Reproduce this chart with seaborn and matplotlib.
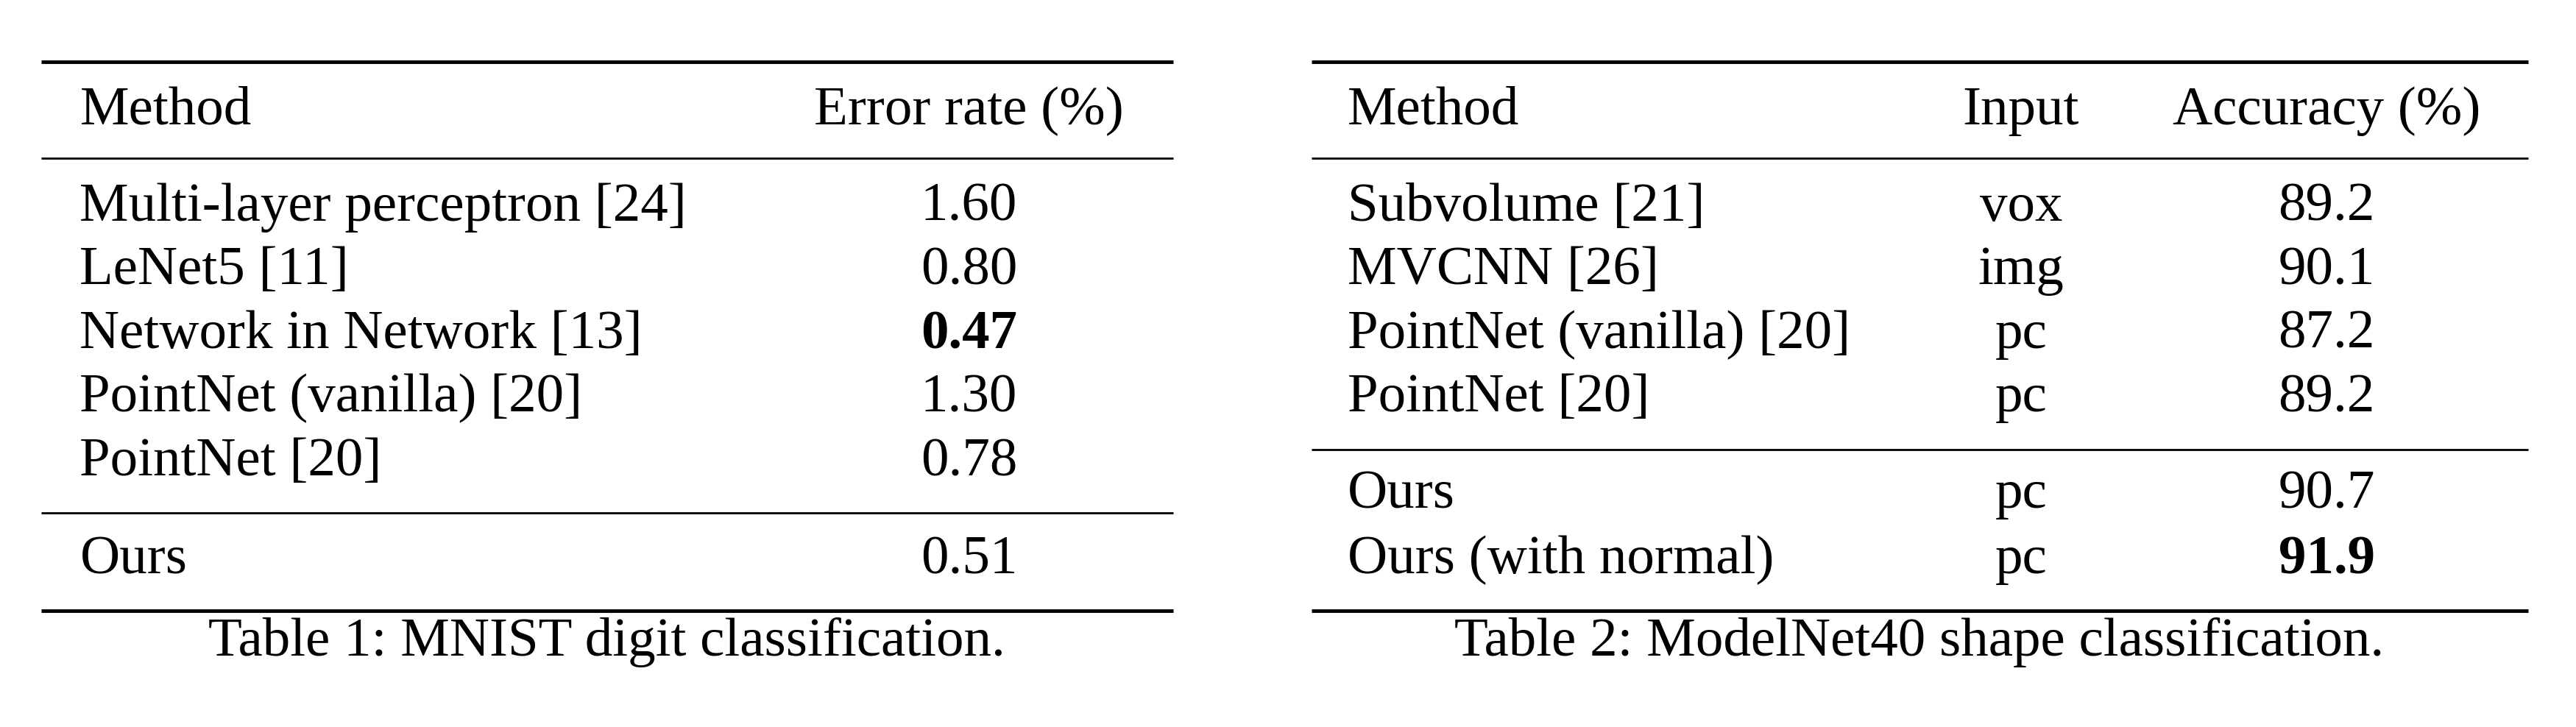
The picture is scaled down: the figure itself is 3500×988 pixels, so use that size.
import matplotlib
matplotlib.use("Agg")
import matplotlib.pyplot as plt
import seaborn as sns

sns.set_theme(style="white", rc={"font.family": "Liberation Serif"})

t1_methods = ["Multi-layer perceptron [24]", "LeNet5 [11]", "Network in Network [13]",
              "PointNet (vanilla) [20]", "PointNet [20]"]
t1_errors = ["1.60", "0.80", "0.47", "1.30", "0.78"]
t1_ours_method = ["Ours"]
t1_ours_error = ["0.51"]
t1_bold = "0.47"

t2_methods = ["Subvolume [21]", "MVCNN [26]", "PointNet (vanilla) [20]", "PointNet [20]"]
t2_inputs = ["vox", "img", "pc", "pc"]
t2_acc = ["89.2", "90.1", "87.2", "89.2"]
t2_ours_methods = ["Ours", "Ours (with normal)"]
t2_ours_inputs = ["pc", "pc"]
t2_ours_acc = ["90.7", "91.9"]
t2_bold = "91.9"

fig = plt.figure(figsize=(35, 9.88), dpi=100)
ax = fig.add_axes([0, 0, 1, 1])
ax.set_xlim(0, 1550)
ax.set_ylim(445, 0)
ax.axis("off")

FS = 54
def txt(x, y, s, ha="left", bold=False):
    ax.text(x, y, s, ha=ha, va="center", fontsize=FS,
            fontweight="bold" if bold else "normal", color="black")

def hline(x0, x1, y, lw):
    ax.plot([x0, x1], [y, y], color="black", lw=lw, solid_capstyle="butt")

# Table 1
L1, R1 = 25, 706
hline(L1, R1, 38, 3.5)
hline(L1, R1, 97, 2)
hline(L1, R1, 314, 2)
hline(L1, R1, 374, 3.5)
txt(48, 68, "Method")
txt(583, 68, "Error rate (%)", ha="center")
ys = [127, 166, 205, 244, 283]
for y, m, e in zip(ys, t1_methods, t1_errors):
    txt(48, y, m)
    txt(583, y, e, ha="center", bold=(e == t1_bold))
for m, e in zip(t1_ours_method, t1_ours_error):
    txt(48, 343, m)
    txt(583, 343, e, ha="center")
txt(365, 393, "Table 1: MNIST digit classification.", ha="center")

# Table 2
L2, R2 = 789, 1521
hline(L2, R2, 38, 3.5)
hline(L2, R2, 97, 2)
hline(L2, R2, 275, 2)
hline(L2, R2, 374, 3.5)
txt(811, 68, "Method")
txt(1216, 68, "Input", ha="center")
txt(1400, 68, "Accuracy (%)", ha="center")
for y, m, i, a in zip([127, 166, 205, 244], t2_methods, t2_inputs, t2_acc):
    txt(811, y, m)
    txt(1216, y, i, ha="center")
    txt(1400, y, a, ha="center")
for y, m, i, a in zip([303, 343], t2_ours_methods, t2_ours_inputs, t2_ours_acc):
    txt(811, y, m)
    txt(1216, y, i, ha="center")
    txt(1400, y, a, ha="center", bold=(a == t2_bold))
txt(1155, 393, "Table 2: ModelNet40 shape classification.", ha="center")

fig.savefig("out.png", dpi=100, facecolor="white")
